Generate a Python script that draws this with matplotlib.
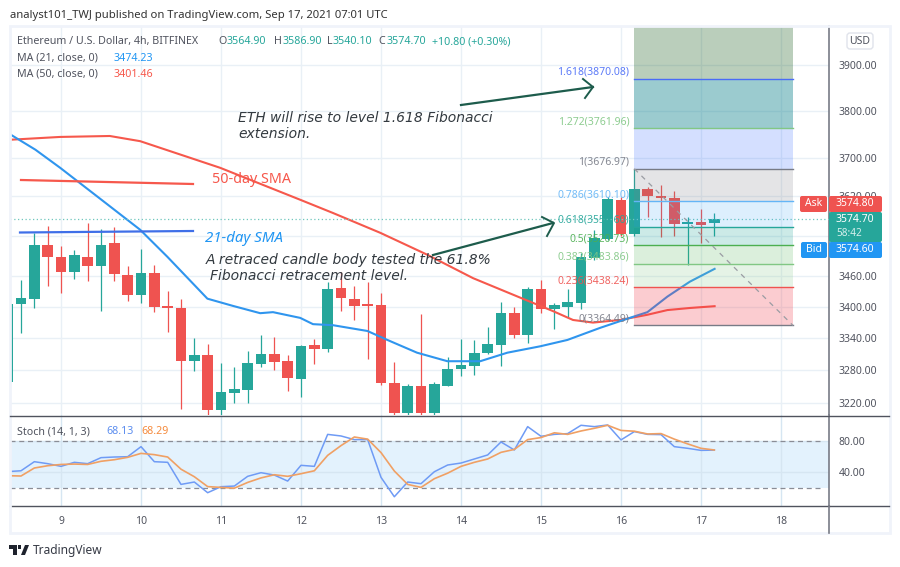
import numpy as np
import matplotlib
matplotlib.use('Agg')
import matplotlib.pyplot as plt
from matplotlib.patches import FancyBboxPatch, Rectangle, Polygon
from matplotlib.lines import Line2D
from matplotlib.transforms import Affine2D

plt.rcParams['font.family'] = ['Noto Sans', 'DejaVu Sans']

# 4h candles, prices
opens = [3258, 3406, 3416, 3522, 3498, 3468, 3498, 3480, 3526, 3462, 3423, 3466, 3402, 3398,
         3297, 3309, 3207, 3238, 3243, 3291, 3311, 3297, 3264, 3327, 3320, 3437, 3416, 3405,
         3404, 3256, 3202, 3251, 3202, 3251, 3283, 3288, 3313, 3327, 3388, 3347, 3435, 3396,
         3400, 3408, 3496, 3534, 3613, 3544, 3636, 3621, 3617, 3564, 3568, 3564.90]
highs = [3406, 3453, 3546, 3560, 3520, 3512, 3566, 3554, 3558, 3480, 3514, 3482, 3431, 3416,
         3341, 3329, 3293, 3286, 3316, 3347, 3343, 3309, 3327, 3339, 3449, 3468, 3441, 3449,
         3427, 3295, 3255, 3387, 3258, 3305, 3339, 3337, 3362, 3410, 3400, 3439, 3453, 3408,
         3435, 3506, 3552, 3618, 3619, 3676.97, 3640, 3644, 3631, 3578, 3594, 3586.90]
lows = [3258, 3350, 3398, 3441, 3427, 3455, 3451, 3392, 3451, 3412, 3408, 3390, 3352, 3209,
        3279, 3198, 3198, 3220, 3220, 3286, 3280, 3242, 3231, 3291, 3314, 3392, 3375, 3301,
        3253, 3198, 3198, 3198, 3198, 3251, 3270, 3272, 3311, 3288, 3341, 3331, 3388, 3358,
        3381, 3396, 3492, 3532, 3540, 3540, 3578, 3538, 3540, 3482, 3526, 3540.10]
closes = [3406, 3418, 3522, 3498, 3468, 3502, 3480, 3522, 3464, 3423, 3466, 3400, 3398, 3297,
          3309, 3207, 3240, 3245, 3293, 3311, 3295, 3266, 3325, 3320, 3435, 3418, 3402, 3402,
          3256, 3202, 3251, 3202, 3255, 3283, 3290, 3313, 3329, 3388, 3347, 3435, 3396, 3404,
          3410, 3498, 3536, 3615, 3544, 3636, 3621, 3617, 3564, 3568, 3562, 3574.70]

ma50_days = [8.36, 8.99, 9.61, 9.99, 10.99, 11.99, 12.40, 12.99, 13.58, 14.15, 14.74, 15.15,
             15.40, 15.65, 15.99, 16.33, 16.58, 16.86, 17.17]
ma50_vals = [3738, 3744, 3746, 3735, 3679, 3613, 3586, 3546, 3502, 3456, 3418, 3392,
             3375, 3370, 3375, 3385, 3394, 3398, 3401.46]
ma21_days = [8.36, 8.68, 8.99, 9.49, 9.99, 10.33, 10.83, 11.15, 11.49, 11.65, 11.99, 12.15, 12.40,
             12.83, 13.08, 13.45, 13.83, 14.24, 14.58, 14.99, 15.33, 15.74, 16.11, 16.33, 16.58,
             16.86, 17.17]
ma21_vals = [3750, 3717, 3679, 3615, 3552, 3498, 3416, 3402, 3388, 3390, 3379, 3367, 3365,
             3354, 3337, 3313, 3297, 3297, 3313, 3325, 3337, 3360, 3379, 3390, 3420,
             3449, 3474.23]

stoch_k = [41, 42, 53.5, 51, 47.6, 52.7, 51, 58.6, 59.4, 59.8, 72.5, 53.5, 52.7, 24.8, 27.8, 14.3,
           21.9, 22.7, 35, 39.6, 36.6, 29, 48.9, 47.6, 88, 86, 81.4, 81.4, 33.7, 9.2, 27.8, 25.7,
           40.8, 49.3, 51.8, 56.9, 62, 78.4, 68.3, 97.8, 85.6, 88, 89, 99.5, 97.8, 99.9, 81, 91.5,
           88, 87.7, 72.5, 70.4, 67.8, 68.13]
stoch_d = [35.8, 35.4, 45.5, 48.4, 50, 50.5, 50, 54, 56, 59, 64, 62.4, 59.4, 44, 34.5, 22,
           21, 20, 27.3, 33, 37, 35, 38.3, 42, 61.5, 73.8, 84.7, 82, 65, 41.7, 24.8, 21,
           32, 39, 47.6, 52.7, 56.9, 65.3, 69, 81.4, 84, 90, 88, 92.3, 95.7, 99.5, 93, 92,
           88.5, 89, 82, 76, 70.4, 68.29]

fib_ratios = ['0', '0.236', '0.382', '0.5', '0.618', '0.786', '1', '1.272', '1.618']
fib_prices = [3364.49, 3438.24, 3483.86, 3520.73, 3557.60, 3610.10, 3676.97, 3761.96, 3870.08]
fib_colors = ['#787b86', '#ef5350', '#81c784', '#4caf50', '#26a69a', '#64b5f6', '#787b86', '#81c784', '#4a6cf7']
fill_colors = ['#f23645', '#81c784', '#4caf50', '#009688', '#2196f3', '#787b86', '#2962ff', '#077d89', '#1b5e20']
fill_alphas = [0.25, 0.2, 0.2, 0.2, 0.15, 0.2, 0.2, 0.4, 0.3]

price_ticks = [3220, 3280, 3340, 3400, 3460, 3540, 3620, 3700, 3800, 3900]
day_ticks = [9, 10, 11, 12, 13, 14, 15, 16, 17, 18]
last_price = 3574.70

UP, DOWN = '#26a69a', '#ef5350'
GRID = '#e9f0f6'
TXT = '#50535e'
W, H = 900, 567

fig = plt.figure(figsize=(9, 5.67), dpi=100)
# pixel coords from top left, for the texts and boxes around the chart
tr = Affine2D().scale(1, -1).translate(0, H)


def axes_box(left, top, right, bottom):
    return [left/W, 1 - bottom/H, (right - left)/W, (bottom - top)/H]


ax = fig.add_axes(axes_box(10, 26, 829, 415))
ax2 = fig.add_axes(axes_box(10, 415, 829, 506))

days = 8 + 1/3 + np.arange(len(opens))/6
x_start, x_end = 8.3625, 18.6

# price pane
ax.set_yscale('log')
ax.set_xlim(x_start, x_end)
ax.set_ylim(3198, 3987)
ax.yaxis.tick_right()
ax.set_yticks(price_ticks)
# the 3540 label is covered by the last price box in the original
ax.set_yticklabels(['' if p == 3540 else '%.2f' % p for p in price_ticks])
ax.minorticks_off()
ax.set_xticks(day_ticks)
ax.grid(True, color=GRID, lw=1)
ax.set_axisbelow(True)
ax.tick_params(axis='y', length=0, pad=7, labelsize=7.5, labelcolor=TXT)
ax.tick_params(axis='x', length=0, labelbottom=False)
for s in ['top', 'left', 'bottom']:
    ax.spines[s].set_visible(False)
ax.spines['right'].set_color('#787b86')
ax.spines['right'].set_linewidth(1.2)

for d, o, h, l, c in zip(days, opens, highs, lows, closes):
    col = UP if c >= o else DOWN
    ax.vlines(d, l, h, color=col, lw=0.9, zorder=3)
    ax.bar(d, abs(c - o), bottom=min(o, c), width=0.135, color=col, lw=0, zorder=3)

ax.plot(ma50_days, ma50_vals, color='#f6584c', lw=1.5, zorder=4)
ax.plot(ma21_days, ma21_vals, color='#2f95ee', lw=1.5, zorder=4)
ax.axhline(last_price, color='#6fc7bd', lw=0.9, ls=(0, (1, 2)), zorder=4)

# fibonacci tool
fib_x0, fib_x1 = 8 + 1/3 + 47/6, 18.15
edges = fib_prices + [3987]
for i in range(len(fill_colors)):
    ax.fill_between([fib_x0, fib_x1], edges[i], edges[i + 1], color=fill_colors[i],
                    alpha=fill_alphas[i], lw=0, zorder=5)
for r, p, col in zip(fib_ratios, fib_prices, fib_colors):
    ax.plot([fib_x0, fib_x1], [p, p], color=col, lw=1, zorder=6)
    ax.annotate('%s(%.2f)' % (r, p), (fib_x0, p), xytext=(-3.6, 4.8), textcoords='offset points',
                ha='right', va='center', color=col, fontsize=7.5, zorder=7, alpha=0.9)
ax.plot([fib_x0, fib_x1], [fib_prices[6], fib_prices[0]], color='#9a9ca3', lw=0.9,
        ls=(0, (4, 4)), zorder=6)

# stochastic pane
ax2.set_xlim(x_start, x_end)
ax2.set_ylim(-2.5, 112.5)
ax2.axhspan(20, 80, color='#e3f2fd', lw=0, zorder=0)
ax2.yaxis.tick_right()
ax2.set_yticks([40, 80])
ax2.set_yticklabels(['40.00', '80.00'])
ax2.set_xticks(day_ticks)
ax2.set_xticklabels([str(d) for d in day_ticks])
ax2.grid(True, color='#d6e6f2', lw=1)
ax2.set_axisbelow(True)
ax2.tick_params(axis='y', length=0, pad=7, labelsize=7.5, labelcolor=TXT)
ax2.tick_params(axis='x', length=0, pad=7, labelsize=7.5, labelcolor=TXT)
for s in ['top', 'left']:
    ax2.spines[s].set_visible(False)
ax2.spines['right'].set_color('#787b86')
ax2.spines['right'].set_linewidth(1.2)
ax2.spines['bottom'].set_color(TXT)
ax2.spines['bottom'].set_linewidth(1)
ax2.hlines([20, 80], x_start, 18.52, color='#8a8d96', lw=0.9, ls=(0, (4, 3)), zorder=2)
ax2.plot(days, stoch_k, color='#6f9bf5', lw=1.1, zorder=3)
ax2.plot(days, stoch_d, color='#f0a064', lw=1.2, zorder=3)

# frame and separators
fig.add_artist(Rectangle((9.5, 26), 880.5, 507, transform=tr, fill=False, ec='#f0f3fa', lw=2))
fig.add_artist(Line2D([10, 889], [415.5, 415.5], transform=tr, color=TXT, lw=1))
fig.add_artist(Line2D([829, 889], [506.3, 506.3], transform=tr, color=TXT, lw=1))
fig.add_artist(Line2D([829, 829], [506, 533], transform=tr, color='#787b86', lw=1.2))

# header and legends
fig.text(10, 18, 'analyst101_TWJ published on TradingView.com, Sep 17, 2021 07:01 UTC',
         transform=tr, fontsize=8.1, color='#333333', fontweight='medium')
fig.text(17, 44, 'Ethereum / U.S. Dollar, 4h, BITFINEX', transform=tr, fontsize=7.7, color=TXT)
for x, lab, val in [(218, 'O', '3564.90'), (274, 'H', '3586.90'), (327, 'L', '3540.10'), (378, 'C', '3574.70')]:
    t = fig.text(x, 44, lab, transform=tr, fontsize=7.7, color=TXT)
    fig.text(x + (9 if lab != 'L' else 6), 44, val, transform=tr, fontsize=7.7, color=UP)
fig.text(432, 44, '+10.80 (+0.30%)', transform=tr, fontsize=7.7, color=UP)
fig.text(17, 61, 'MA (21, close, 0)', transform=tr, fontsize=7.7, color=TXT)
fig.text(114, 61, '3474.23', transform=tr, fontsize=7.7, color='#2196f3')
fig.text(17, 77, 'MA (50, close, 0)', transform=tr, fontsize=7.7, color=TXT)
fig.text(114, 77, '3401.46', transform=tr, fontsize=7.7, color='#f6584c')
fig.text(17, 434, 'Stoch (14, 1, 3)', transform=tr, fontsize=7.7, color=TXT)
fig.text(106, 434, '68.13', transform=tr, fontsize=7.7, color='#5b8def')
fig.text(141, 434, '68.29', transform=tr, fontsize=7.7, color='#f58a3c')

# hand drawn notes on the chart
fig.add_artist(Line2D([21, 193], [180, 184], transform=tr, color='#f6584c', lw=1.6))
fig.add_artist(Line2D([20, 193], [232.5, 231], transform=tr, color='#3f6fe8', lw=1.6))
arrow_col = '#1d5c4c'
fig.add_artist(Line2D([433, 553], [255, 223], transform=tr, color=arrow_col, lw=1.6))
fig.add_artist(Line2D([542, 554, 547], [217, 223, 236], transform=tr, color=arrow_col, lw=1.4))
fig.add_artist(Line2D([461, 593], [105, 87], transform=tr, color=arrow_col, lw=1.6))
fig.add_artist(Line2D([583, 593, 585], [79, 87, 98], transform=tr, color=arrow_col, lw=1.4))

note = dict(transform=tr, family='DejaVu Sans', style='italic', color='#333a40', fontsize=10)
fig.text(238, 122, 'ETH will rise to level 1.618 Fibonacci', **note)
fig.text(238, 138, 'extension.', **note)
fig.text(206, 264, 'A retraced candle body tested the 61.8%', **note)
fig.text(210, 280, 'Fibonacci retracement level.', **note)
fig.text(212, 183, '50-day SMA', transform=tr, fontsize=10.3, color='#f6584c')
fig.text(205, 242, '21-day SMA', transform=tr, fontsize=10.8, color='#2196f3', style='italic')

# price labels on the scale
fig.add_artist(FancyBboxPatch((847, 33), 26, 16, boxstyle='round,pad=0,rounding_size=3', transform=tr,
                              fc='white', ec='#e0e3eb', lw=1))
fig.text(860, 41, 'USD', transform=tr, fontsize=7.5, color=TXT, ha='center', va='center')
fig.add_artist(FancyBboxPatch((800, 196), 27, 16, boxstyle='round,pad=0,rounding_size=2', transform=tr,
                              fc=DOWN, ec='none'))
fig.add_artist(FancyBboxPatch((829, 196), 53, 16, boxstyle='round,pad=0,rounding_size=2', transform=tr,
                              fc=DOWN, ec='none'))
fig.add_artist(FancyBboxPatch((829, 212), 53, 30, boxstyle='round,pad=0,rounding_size=2', transform=tr,
                              fc=UP, ec='none'))
fig.add_artist(FancyBboxPatch((801, 242), 26, 16, boxstyle='round,pad=0,rounding_size=2', transform=tr,
                              fc='#2196f3', ec='none'))
fig.add_artist(FancyBboxPatch((829, 242), 53, 16, boxstyle='round,pad=0,rounding_size=2', transform=tr,
                              fc='#2196f3', ec='none'))
lab = dict(transform=tr, fontsize=7.5, color='white', va='center')
fig.text(813.5, 204, 'Ask', ha='center', **lab)
fig.text(836, 204, '3574.80', **lab)
fig.text(836, 219.5, '3574.70', **lab)
fig.text(836, 234, '58:42', transform=tr, fontsize=7.2, color='#d5efec', va='center')
fig.text(814, 250, 'Bid', ha='center', **lab)
fig.text(836, 250, '3574.60', **lab)

# logo
logo = '#1e222d'
fig.add_artist(Polygon([(9, 545), (17, 545), (17, 555), (13, 555), (13, 549), (9, 549)], transform=tr, fc=logo, ec='none'))
fig.add_artist(Polygon([(21, 555), (25, 545), (29, 545), (25, 555)], transform=tr, fc=logo, ec='none'))
fig.add_artist(Rectangle((18, 545), 3, 4, transform=tr, fc=logo, ec='none'))
fig.text(33, 554, 'TradingView', transform=tr, fontsize=8.6, color='#363a45')

fig.savefig('out.png', dpi=100)
